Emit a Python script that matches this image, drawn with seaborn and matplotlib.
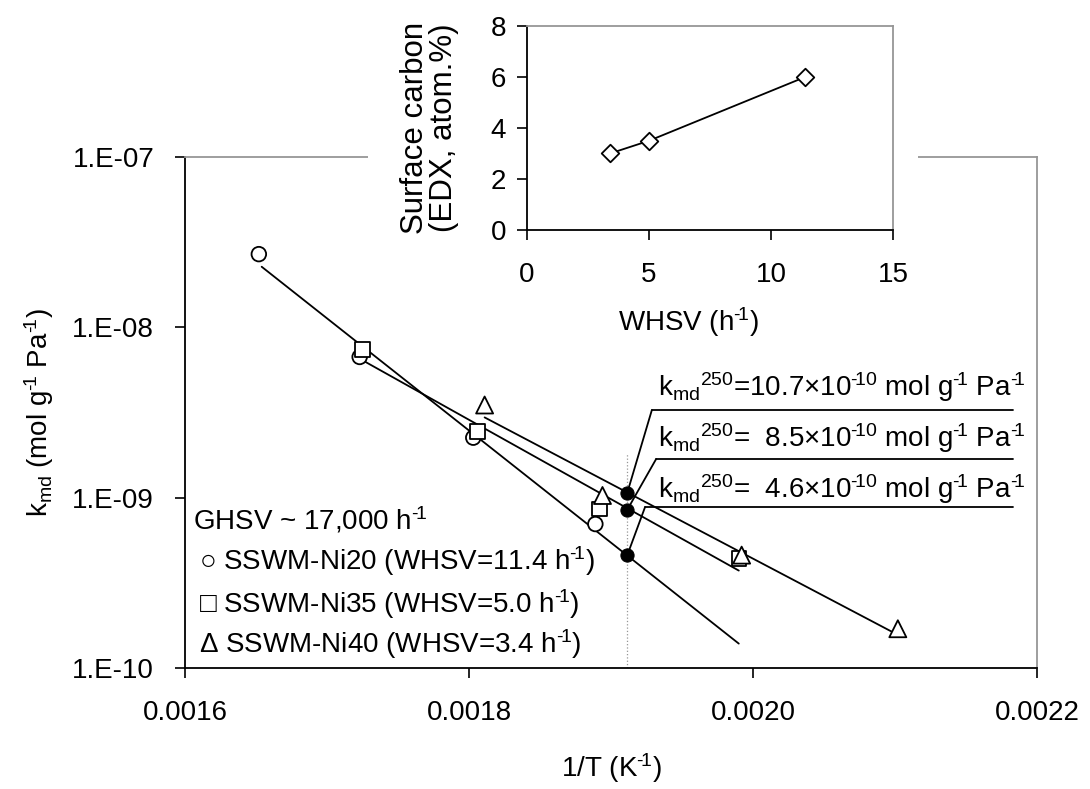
import numpy as np
import pandas as pd
import matplotlib
matplotlib.use("Agg")
import matplotlib.pyplot as plt
import seaborn as sns
from matplotlib.ticker import FixedLocator, FixedFormatter, NullLocator
from matplotlib.patches import Rectangle

# ---------------- data ----------------
samples = ["SSWM-Ni20", "SSWM-Ni35", "SSWM-Ni40"]
whsv_legend = ["11.4", "5.0", "3.4"]
invT_ni20 = [0.001652, 0.001723, 0.001803, 0.001889]
k_ni20 = [2.69e-8, 6.7e-9, 2.25e-9, 7.0e-10]
invT_ni35 = [0.001725, 0.001806, 0.001892, 0.001990]
k_ni35 = [7.4e-9, 2.45e-9, 8.6e-10, 4.4e-10]
invT_ni40 = [0.001811, 0.001894, 0.001992, 0.002102]
k_ni40 = [3.5e-9, 1.03e-9, 4.6e-10, 1.7e-10]
fit_start = [0.001654, 0.001725, 0.001811]
fit_end = [0.001990, 0.001990, 0.002102]
T250_K = 523.15
k250 = [10.7e-10, 8.5e-10, 4.6e-10]
k250_text = ["10.7", "  8.5", "  4.6"]

whsv = [3.4, 5.0, 11.4]
surface_c = [3.0, 3.5, 6.0]

xticks = [0.0016, 0.0018, 0.0020, 0.0022]
xticklabels = ["0.0016", "0.0018", "0.0020", "0.0022"]
yticks = [1e-10, 1e-9, 1e-8, 1e-7]
yticklabels = ["1.E-10", "1.E-09", "1.E-08", "1.E-07"]

# ---------------- style ----------------
sns.set_theme(style="ticks")
plt.rcParams["font.family"] = ["Liberation Sans", "DejaVu Sans"]
plt.rcParams["mathtext.fontset"] = "custom"
plt.rcParams["mathtext.rm"] = "Liberation Sans"
plt.rcParams["mathtext.it"] = "Liberation Sans:italic"
plt.rcParams["mathtext.bf"] = "Liberation Sans:bold"
for key in ["text.color", "axes.labelcolor", "xtick.color", "ytick.color",
            "xtick.labelcolor", "ytick.labelcolor"]:
    plt.rcParams[key] = "black"

FS = 20
GREY = "#969696"
M1 = "$^{\u2010\\!1}$"      # superscript "-1" with a short hyphen
M10 = "$^{\u2010\\!10}$"

fig = plt.figure(figsize=(10.9, 7.89), dpi=100)
ax = fig.add_axes([0.16972, 0.15336, 0.78165, 0.64765])

df = pd.DataFrame({
    "invT": invT_ni20 + invT_ni35 + invT_ni40,
    "k": k_ni20 + k_ni35 + k_ni40,
    "sample": [samples[0]] * 4 + [samples[1]] * 4 + [samples[2]] * 4,
})

# fitted Arrhenius lines
rows = []
for s, x0, x1 in zip(samples, fit_start, fit_end):
    sub = df[df["sample"] == s]
    p = np.polyfit(sub["invT"], np.log10(sub["k"]), 1)
    for xv in (x0, x1):
        rows.append({"invT": xv, "k": 10 ** np.polyval(p, xv), "sample": s})
fit_df = pd.DataFrame(rows)

ax.set_yscale("log")
sns.lineplot(data=fit_df, x="invT", y="k", units="sample", estimator=None,
             color="black", lw=1.3, ax=ax, legend=False, zorder=2)

sns.scatterplot(data=df, x="invT", y="k", style="sample", size="sample",
                sizes={"SSWM-Ni20": 110, "SSWM-Ni35": 110, "SSWM-Ni40": 150},
                markers={"SSWM-Ni20": "o", "SSWM-Ni35": "s", "SSWM-Ni40": "^"},
                color="white", edgecolor="black", linewidth=1.3,
                legend=False, ax=ax, zorder=3)

# 250 C points
x250 = 1.0 / T250_K
ax.vlines(x250, 1e-10, 1.82e-9, color=GREY, lw=0.9, ls=":", zorder=1)
dots = pd.DataFrame({"invT": [x250] * 3, "k": k250})
sns.scatterplot(data=dots, x="invT", y="k", color="black", edgecolor="black",
                s=90, legend=False, ax=ax, zorder=4)

ax.set_xlim(0.0016, 0.0022)
ax.set_ylim(1e-10, 1e-7)
ax.xaxis.set_major_locator(FixedLocator(xticks))
ax.xaxis.set_major_formatter(FixedFormatter(xticklabels))
ax.yaxis.set_major_locator(FixedLocator(yticks))
ax.yaxis.set_major_formatter(FixedFormatter(yticklabels))
ax.yaxis.set_minor_locator(NullLocator())
ax.xaxis.set_minor_locator(NullLocator())
ax.tick_params(axis="both", direction="out", length=7.2, width=1.2,
               colors="black", labelsize=FS)
ax.tick_params(axis="x", pad=16)
ax.tick_params(axis="y", pad=15)
for side in ["left", "bottom"]:
    ax.spines[side].set_color("black")
    ax.spines[side].set_linewidth(1.3)
for side in ["top", "right"]:
    ax.spines[side].set_visible(True)
    ax.spines[side].set_color(GREY)
    ax.spines[side].set_linewidth(1.3)

ax.set_xlabel("1/T (K" + M1 + ")", fontsize=FS, labelpad=18)
ax.set_ylabel("k$_{\\mathrm{md}}$ (mol g" + M1 + " Pa" + M1 + ")", fontsize=FS,
              labelpad=12)

# annotations (axes-fraction layout)
elbow = [(0.548, 0.505), (0.553, 0.409), (0.540, 0.315)]
text_base = [0.532, 0.4325, 0.3327]
for kv, (ex, ey), tb, lbl in zip(k250, elbow, text_base, k250_text):
    ax.annotate("", xy=(x250, kv), xycoords="data", xytext=(ex, ey),
                textcoords="axes fraction",
                arrowprops=dict(arrowstyle="-", color="black", lw=1.3,
                                shrinkA=0, shrinkB=0))
    ax.plot([ex, 0.972], [ey, ey], transform=ax.transAxes, color="black",
            lw=1.3, clip_on=False)
    ax.text(0.555, tb,
            "k$_{\\mathrm{md}}{}^{250}$=" + lbl + "×10" + M10 + " mol g" + M1
            + " Pa" + M1,
            transform=ax.transAxes, fontsize=FS, va="baseline", ha="left")

# legend block as text
ax.text(0.0094, 0.272, "GHSV ~ 17,000 h" + M1, transform=ax.transAxes,
        fontsize=FS, va="baseline")
symbols = ["○", "□", "Δ"]
ys = [0.192, 0.1076, 0.0294]
for sym, s, w, yy in zip(symbols, samples, whsv_legend, ys):
    ax.text(0.0165, yy, f"{sym} {s} (WHSV={w} h" + M1 + ")",
            transform=ax.transAxes, fontsize=FS, va="baseline")

# white cover behind inset
fig.patches.append(Rectangle((0.3376, 0.7465), 0.5046, 0.2535,
                             transform=fig.transFigure, facecolor="white",
                             edgecolor="none", zorder=1))

# ---------------- inset ----------------
axin = fig.add_axes([0.48349, 0.70849, 0.33578, 0.25856], zorder=2)
axin.set_facecolor("white")
inset_df = pd.DataFrame({"whsv": whsv, "c": surface_c})
sns.lineplot(data=inset_df, x="whsv", y="c", color="black", lw=1.3, ax=axin,
             legend=False, zorder=2)
sns.scatterplot(data=inset_df, x="whsv", y="c", marker="D", color="white",
                edgecolor="black", linewidth=1.3, s=80, ax=axin, legend=False,
                zorder=3)
axin.set_xlim(0, 15)
axin.set_ylim(0, 8)
axin.set_xticks([0, 5, 10, 15])
axin.set_yticks([0, 2, 4, 6, 8])
axin.tick_params(axis="both", direction="out", length=7.2, width=1.2,
                 colors="black", labelsize=FS)
axin.tick_params(axis="x", pad=16)
axin.tick_params(axis="y", pad=8)
for side in ["left", "bottom"]:
    axin.spines[side].set_color("black")
    axin.spines[side].set_linewidth(1.3)
for side in ["top", "right"]:
    axin.spines[side].set_visible(True)
    axin.spines[side].set_color(GREY)
    axin.spines[side].set_linewidth(1.3)
axin.set_xlabel("WHSV (h" + M1 + ")", fontsize=FS)
axin.xaxis.set_label_coords(0.44, -0.37)
axin.set_ylabel("Surface carbon\n(EDX, atom.%)", fontsize=FS + 2.5,
                linespacing=0.95)
axin.yaxis.set_label_coords(-0.185, 0.5)

fig.savefig("out.png", dpi=100)
